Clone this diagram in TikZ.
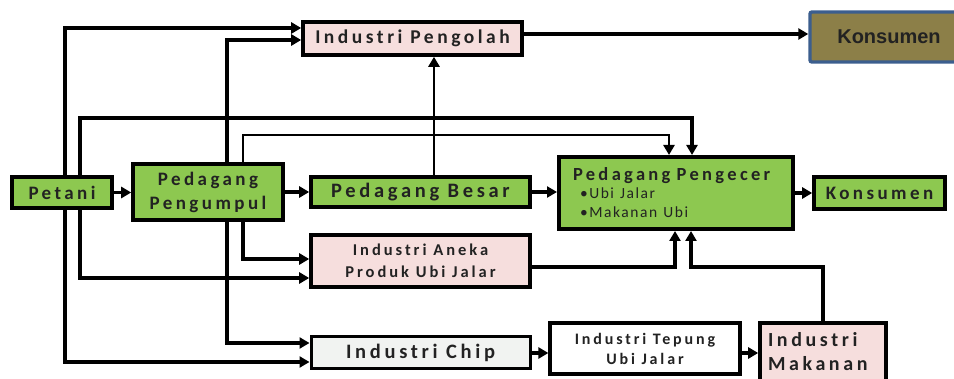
\documentclass[tikz,border=0pt]{standalone}
\usepackage{fontspec}
\setmainfont{Carlito}
\newfontfamily\labfont[LetterSpace=18]{Carlito}
\newfontfamily\subfont[LetterSpace=10]{Carlito}
\newfontfamily\arialfont{Liberation Sans}
\usetikzlibrary{arrows.meta}
\definecolor{gfill}{HTML}{8DC850}
\definecolor{pfill}{HTML}{F6DEDD}
\definecolor{cfill}{HTML}{F1F3F1}
\definecolor{ofill}{HTML}{8C7F48}
\definecolor{oborder}{HTML}{3C5E8E}
\definecolor{tcol}{HTML}{222222}
\begin{document}
\begin{tikzpicture}[x=1pt,y=-1pt,
  box/.style={draw=black, line width=3.6pt, inner sep=0pt, text=tcol, align=center,
    font=\labfont\bfseries\fontsize{18}{22}\selectfont},
  gbox/.style={box, fill=gfill},
  pbox/.style={box, fill=pfill},
  cbox/.style={box, fill=cfill, line width=3pt},
  wbox/.style={box, fill=white, line width=3.2pt},
  conn/.style={draw=black, line width=3.2pt, -{Triangle[length=10pt,width=11pt]}},
  thick conn/.style={conn, line width=4.6pt},
  thin conn/.style={conn, line width=2.5pt}
]
\useasboundingbox (0,0) rectangle (954,379);
\fill[white] (0,0) rectangle (954,379);

% nodes
\node[pbox, minimum width=219pt, minimum height=33pt, font=\labfont\bfseries\fontsize{19.5}{22}\selectfont] (peng) at (412.5,38.5) {Industri Pengolah};
\node[draw=oborder, line width=3.4pt, rounded corners=2pt, fill=ofill, minimum width=158pt, minimum height=50pt,
  inner sep=0pt, text=tcol, font=\arialfont\bfseries\fontsize{20}{24}\selectfont] (kons1) at (889,37) {Konsumen};
\node[gbox, minimum width=100pt, minimum height=31pt, font=\labfont\bfseries\fontsize{19}{22}\selectfont] (petani) at (62,192.5) {Petani};
\node[gbox, minimum width=150pt, minimum height=56pt, font=\labfont\bfseries\fontsize{19}{24}\selectfont] (pengumpul) at (208,192) {Pedagang\\Pengumpul};
\node[gbox, minimum width=219pt, minimum height=30pt, font=\labfont\bfseries\fontsize{20.5}{22}\selectfont] (besar) at (420.5,192) {Pedagang Besar};
\node[gbox, line width=4pt, minimum width=234pt, minimum height=72pt, text width=206pt, align=left,
  font=\labfont\bfseries\fontsize{18.5}{22}\selectfont] (pengecer) at (676,193)
  {Pedagang Pengecer\\[-4pt]
   \hspace*{7pt}{\subfont\mdseries\fontsize{15.5}{17}\selectfont •Ubi Jalar}\\[-3pt]
   \hspace*{7pt}{\subfont\mdseries\fontsize{15.5}{17}\selectfont •Makanan Ubi}};
\node[gbox, minimum width=131pt, minimum height=32pt, font=\labfont\bfseries\fontsize{19}{22}\selectfont] (kons2) at (879.5,193) {Konsumen};
\node[pbox, minimum width=219pt, minimum height=52pt, font=\labfont\bfseries\fontsize{16.5}{22}\selectfont] (aneka) at (420.5,261) {Industri Aneka\\Produk Ubi Jalar};
\node[cbox, minimum width=219pt, minimum height=32pt, font=\labfont\bfseries\fontsize{20.5}{22}\selectfont] (chip) at (420.5,353) {Industri Chip};
\node[wbox, minimum width=190pt, minimum height=51pt, font=\labfont\bfseries\fontsize{16}{20}\selectfont] (tepung) at (645,348.5) {Industri Tepung\\Ubi Jalar};
\node[pbox, minimum width=126pt, minimum height=58pt, text width=110pt, align=left,
  font=\labfont\bfseries\fontsize{20}{24}\selectfont] (makanan) at (823,352) {Industri\\Makanan};

% connectors along the main chain
\draw[conn] (petani.east) -- (pengumpul.west |- petani.east);
\draw[conn] (pengumpul.east |- besar.west) -- (besar.west);
\draw[conn] (besar.east) -- (pengecer.west |- besar.east);
\draw[conn] (pengecer.east |- kons2.west) -- (kons2.west);
\draw[conn] (peng.east |- 0,34) -- (kons1.west |- 0,34);
\draw[thin conn] (434,0 |- besar.north) -- (434,0 |- peng.south);

% from Petani
\draw[conn] (65,0 |- petani.north) |- (peng.west |- 0,28);
\draw[conn] (80,0 |- petani.north) -- (80,118) -| (692,0 |- pengecer.north);
\draw[conn] (65,0 |- petani.south) |- (chip.west |- 0,362);
\draw[thick conn] (80,0 |- petani.south) |- (aneka.west |- 0,278);

% from Pedagang Pengumpul
\draw[thick conn] (227,0 |- pengumpul.north) |- (peng.west |- 0,40);
\draw[thin conn] (243,0 |- pengumpul.north) -- (243,135) -| (669,0 |- pengecer.north);
\draw[thick conn] (227,0 |- pengumpul.south) |- (chip.west |- 0,343);
\draw[conn] (243,0 |- pengumpul.south) |- (aneka.west |- 0,259);

% into Pedagang Pengecer from below
\draw[conn] (aneka.east |- 0,267) -| (675,0 |- pengecer.south);
\draw[conn] (makanan.north) -- (823,267) -| (691,0 |- pengecer.south);

% industry chain
\draw[conn] (chip.east) -- (tepung.west |- chip.east);
\draw[conn] (tepung.east |- chip.east) -- (makanan.west |- chip.east);
\end{tikzpicture}
\end{document}
